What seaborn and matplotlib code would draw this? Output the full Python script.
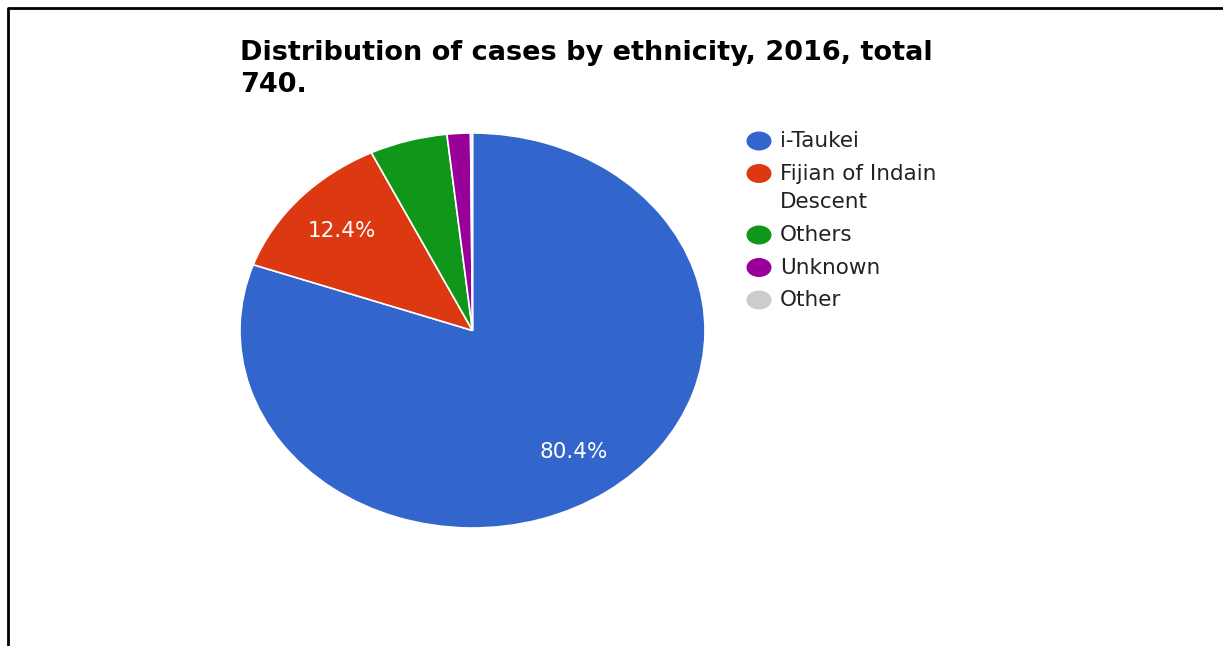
import matplotlib.pyplot as plt
import seaborn as sns
from matplotlib.patches import Ellipse

sns.set_style('white')
plt.rcParams['font.family'] = ['DejaVu Sans']

# ethnicity groups and case counts (total 740)
groups = ['i-Taukei', 'Fijian of Indain\nDescent', 'Others', 'Unknown', 'Other']
cases = [595, 92, 40, 12, 1]
colors = ['#3366cc', '#dc3912', '#109618', '#990099', '#cccccc']
title = 'Distribution of cases by ethnicity, 2016, total\n740.'

W, H = 1223, 646
fig = plt.figure(figsize=(W / 100, H / 100), dpi=100)

# the reference pie is stretched sideways, so use a free aspect axes
ax = fig.add_axes([240 / W, 1 - 528 / H, 465 / W, 395 / H])
wedges, texts, autotexts = ax.pie(
    cases, colors=colors, startangle=90, counterclock=False,
    autopct=lambda p: f'{p:.1f}%' if p > 10 else '', pctdistance=0.755,
    wedgeprops=dict(edgecolor='white', linewidth=1.2),
    textprops=dict(color='white', fontsize=15.5))
ax.set_aspect('auto')
ax.set_xlim(-1, 1)
ax.set_ylim(-1, 1)
ax.axis('off')

# overlay in pixel coords for title, legend and frame
ov = fig.add_axes([0, 0, 1, 1], zorder=-1)
ov.set_xlim(0, W)
ov.set_ylim(H, 0)
ov.axis('off')

ov.text(240, 40, title, fontsize=19.5, fontweight='bold', color='black',
        va='top', ha='left', linespacing=1.3)

# legend: wrapped labels keep their marker on the first line
y = 141
for name, c in zip(groups, colors):
    ov.add_patch(Ellipse((759, y), 25, 19, color=c, lw=0))
    for i, line in enumerate(name.split('\n')):
        ov.text(780, y + 29 * i, line, fontsize=15.5, color='#222222',
                va='center', ha='left')
    y += 32.5 + 29 * name.count('\n')

# thin frame on the left and top, like the screenshot crop
ov.plot([8, 8, W], [H, 8, 8], color='black', linewidth=2, clip_on=False)

fig.savefig('out.png', dpi=100)
